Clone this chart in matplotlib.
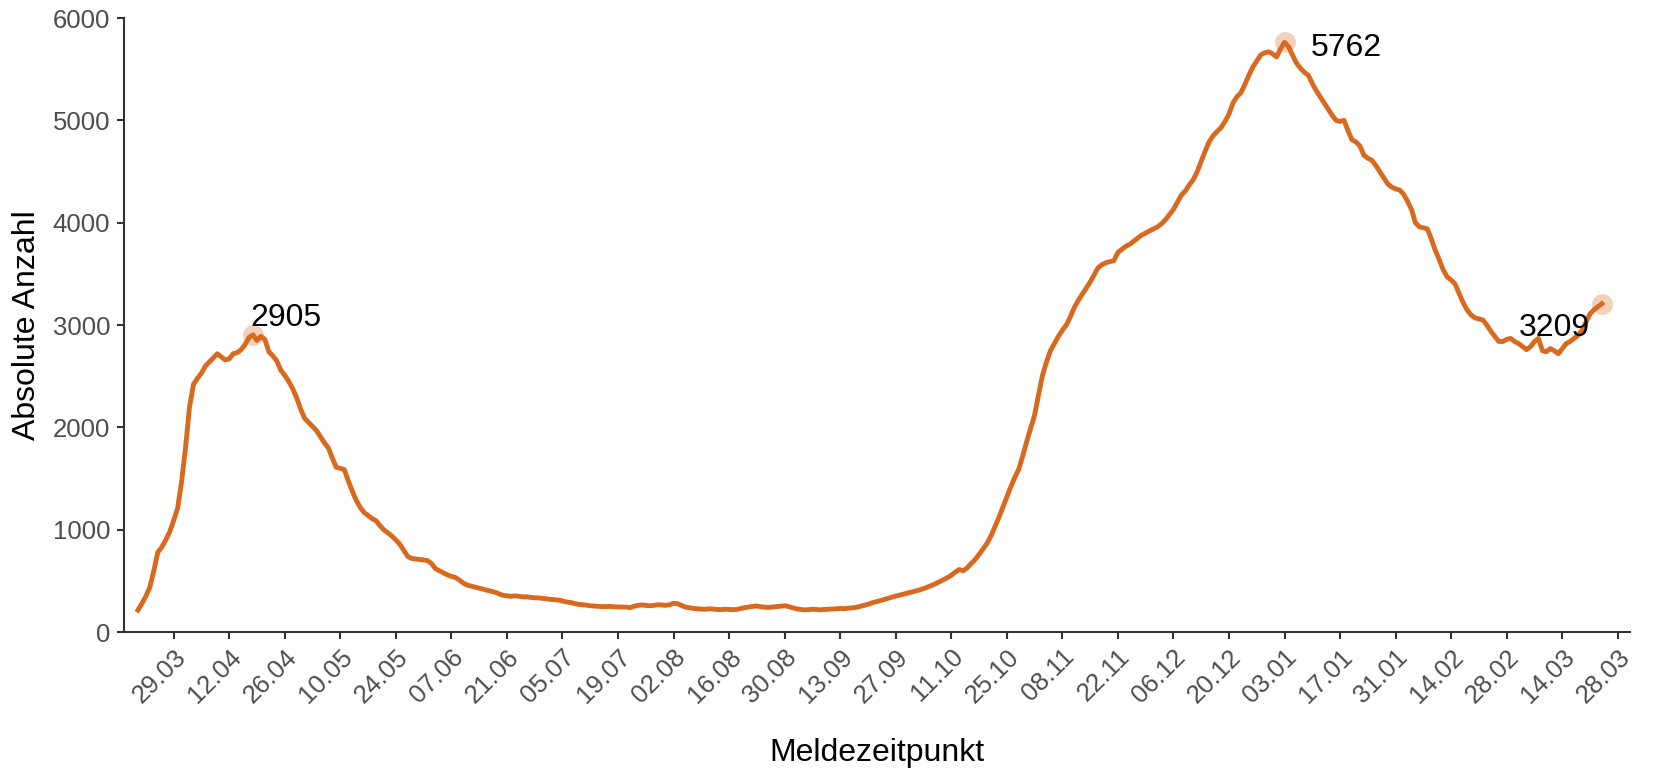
import numpy as np
import pandas as pd
import matplotlib
matplotlib.use("Agg")
import matplotlib.pyplot as plt
import matplotlib.dates as mdates

plt.rcParams['font.family'] = ['Liberation Sans', 'DejaVu Sans']

# daily values, 20.03.2020 - 24.03.2021
start_date = "2020-03-20"
anzahl = [
    215, 280, 350, 440, 600, 780, 830,
    900, 980, 1090, 1210, 1470, 1800, 2200,
    2420, 2480, 2530, 2600, 2640, 2680, 2720,
    2690, 2660, 2670, 2720, 2730, 2760, 2810,
    2880, 2905, 2850, 2890, 2860, 2740, 2700,
    2650, 2560, 2510, 2450, 2380, 2290, 2180,
    2090, 2050, 2010, 1970, 1910, 1850, 1800,
    1700, 1610, 1600, 1590, 1480, 1380, 1290,
    1220, 1170, 1140, 1110, 1090, 1040, 1000,
    970, 940, 900, 860, 800, 740, 720,
    715, 710, 705, 700, 670, 620, 600,
    580, 560, 545, 535, 510, 480, 460,
    450, 440, 430, 420, 410, 400, 390,
    375, 360, 355, 350, 355, 350, 345,
    345, 340, 335, 335, 330, 325, 320,
    318, 313, 305, 295, 290, 280, 272,
    268, 264, 258, 255, 252, 250, 250,
    252, 248, 247, 246, 245, 240, 252,
    262, 266, 262, 258, 262, 268, 266,
    262, 268, 282, 278, 262, 245, 238,
    232, 228, 226, 224, 228, 226, 222,
    220, 224, 222, 220, 222, 232, 240,
    246, 252, 256, 248, 244, 242, 246,
    250, 254, 258, 250, 238, 228, 222,
    218, 220, 224, 222, 218, 222, 224,
    226, 228, 232, 230, 234, 238, 242,
    252, 262, 272, 286, 296, 306, 318,
    330, 342, 352, 362, 372, 382, 392,
    402, 412, 426, 440, 456, 472, 492,
    512, 532, 556, 586, 612, 600, 628,
    670, 708, 760, 812, 866, 940, 1030,
    1120, 1220, 1320, 1420, 1510, 1590, 1720,
    1860, 1990, 2120, 2320, 2510, 2640, 2750,
    2820, 2890, 2950, 3000, 3080, 3170, 3240,
    3300, 3360, 3420, 3490, 3560, 3590, 3610,
    3620, 3630, 3710, 3740, 3770, 3790, 3820,
    3850, 3880, 3900, 3920, 3940, 3960, 3990,
    4030, 4080, 4130, 4200, 4270, 4310, 4370,
    4420, 4500, 4600, 4700, 4790, 4850, 4890,
    4930, 4990, 5060, 5170, 5230, 5270, 5350,
    5440, 5520, 5580, 5640, 5660, 5670, 5650,
    5620, 5700, 5762, 5720, 5640, 5560, 5510,
    5470, 5440, 5360, 5290, 5230, 5170, 5110,
    5050, 5000, 4990, 5000, 4900, 4810, 4790,
    4750, 4660, 4630, 4610, 4560, 4500, 4440,
    4380, 4350, 4330, 4320, 4280, 4210, 4130,
    4000, 3960, 3950, 3940, 3840, 3730, 3640,
    3540, 3470, 3440, 3400, 3310, 3220, 3150,
    3100, 3070, 3060, 3050, 3000, 2940, 2890,
    2840, 2840, 2860, 2870, 2840, 2820, 2790,
    2760, 2790, 2840, 2870, 2750, 2740, 2770,
    2750, 2720, 2770, 2820, 2840, 2870, 2900,
    2950, 3030, 3110, 3150, 3180, 3209,
]
dates = pd.date_range(start_date, periods=len(anzahl), freq="D")

# highlighted points: first peak, second peak, last value
highlight_dates = pd.to_datetime(["2020-04-18", "2021-01-03", "2021-03-24"])
highlight_values = [2905, 5762, 3209]
label_offsets = [(-2, 6), (19, -10), (-9, -23)]
label_ha = ["left", "left", "right"]

tick_dates = pd.date_range("2020-03-29", "2021-03-28", freq="14D")

line_color = "#D8691E"
fig = plt.figure(figsize=(16.54, 7.70), dpi=100)
ax = fig.add_axes([0.075, 0.179, 0.9103, 0.7976])

ax.plot(dates, anzahl, color=line_color, linewidth=3.5, solid_joinstyle="round")
ax.plot(highlight_dates, highlight_values, "o", color=line_color, alpha=0.3,
        markersize=15, markeredgewidth=0, clip_on=False)
for d, v, off, ha in zip(highlight_dates, highlight_values, label_offsets, label_ha):
    ax.annotate(str(v), (d, v), xytext=off, textcoords="offset points",
                ha=ha, va="baseline", fontsize=23, color="black")

ax.set_ylim(0, 6000)
ax.set_xlim(pd.Timestamp("2020-03-16") + pd.Timedelta(hours=12), pd.Timestamp("2021-03-31"))
ax.set_yticks([0, 1000, 2000, 3000, 4000, 5000, 6000])
ax.set_xticks(tick_dates)
ax.xaxis.set_major_formatter(mdates.DateFormatter("%d.%m"))

for s in ["top", "right"]:
    ax.spines[s].set_visible(False)
for s in ["left", "bottom"]:
    ax.spines[s].set_linewidth(1.5)
    ax.spines[s].set_color("#333333")

ax.tick_params(axis="both", length=5, width=1.5, color="#333333",
               labelsize=18.5, labelcolor="#4D4D4D")
ax.tick_params(axis="y", pad=5)
ax.tick_params(axis="x", pad=4)
plt.setp(ax.get_xticklabels(), rotation=45, ha="right", va="top", rotation_mode="anchor")

ax.set_xlabel("Meldezeitpunkt", fontsize=23, labelpad=22)
ax.set_ylabel("Absolute Anzahl", fontsize=23, labelpad=8)

fig.savefig("out.png", dpi=100)
